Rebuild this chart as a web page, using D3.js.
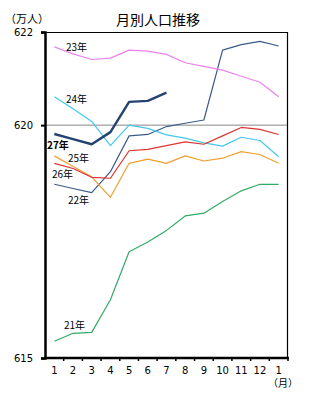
<!DOCTYPE html>
<html>
<head>
<meta charset="utf-8">
<script src="https://cdn.jsdelivr.net/npm/d3@7"></script>
<style>
  html, body { margin: 0; padding: 0; background: #fff; }
  svg { display: block; }
  text { font-family: "Noto Sans CJK JP", "DejaVu Sans", sans-serif; fill: #000; }
</style>
</head>
<body>
<svg id="chart" width="323" height="401"></svg>
<script>
// Month labels along the x axis (January through the next January)
const months = ["1","2","3","4","5","6","7","8","9","10","11","12","1"];
const yTicks = [615, 620, 622];

// Monthly population (10,000 persons) for each year
const y21 = [615.36, 615.53, 615.55, 616.25, 617.28, 617.49, 617.74, 618.05, 618.11, 618.36, 618.59, 618.73, 618.73];
const y22 = [618.73, 618.64, 618.55, 619.00, 619.77, 619.80, 619.97, 620.04, 620.11, 621.61, 621.73, 621.80, 621.70];
const y23 = [621.68, 621.53, 621.41, 621.44, 621.61, 621.59, 621.52, 621.34, 621.26, 621.18, 621.05, 620.92, 620.61];
const y24 = [620.61, 620.35, 620.08, 619.56, 620.00, 619.93, 619.79, 619.72, 619.62, 619.55, 619.74, 619.67, 619.32];
const y25 = [619.34, 619.11, 618.89, 618.45, 619.18, 619.27, 619.18, 619.34, 619.23, 619.29, 619.43, 619.37, 619.18];
const y26 = [619.18, 619.07, 618.88, 618.86, 619.45, 619.48, 619.56, 619.64, 619.59, 619.77, 619.95, 619.91, 619.80];
const y27 = [619.81, 619.70, 619.59, 619.85, 620.50, 620.52, 620.70];

const series = [
  { name: "21年", values: y21, color: "#33aa66", width: 1.2, bold: false, lx: 64, ly: 329 },
  { name: "22年", values: y22, color: "#3a5a88", width: 1.2, bold: false, lx: 68, ly: 204 },
  { name: "23年", values: y23, color: "#ee82ee", width: 1.2, bold: false, lx: 66, ly: 51 },
  { name: "24年", values: y24, color: "#44c8ec", width: 1.2, bold: false, lx: 66, ly: 103 },
  { name: "25年", values: y25, color: "#f0a030", width: 1.2, bold: false, lx: 68, ly: 162 },
  { name: "26年", values: y26, color: "#dd3333", width: 1.2, bold: false, lx: 52, ly: 178 },
  { name: "27年", values: y27, color: "#25436f", width: 2.4, bold: true,  lx: 47, ly: 149 }
];

const svg = d3.select("#chart");
const pLeft = 45, pRight = 288, pTop = 32, pBottom = 358;

const x = d3.scaleBand().domain(d3.range(months.length)).range([pLeft, pRight]);
const y = d3.scaleLinear().domain([615, 622]).range([pBottom, pTop]);
const cx = i => x(i) + x.bandwidth() / 2;

// Title and unit labels
svg.append("text").attr("x", 158).attr("y", 25).attr("text-anchor", "middle")
  .style("font-size", "14px").text("月別人口推移");
svg.append("text").attr("x", 5).attr("y", 23).style("font-size", "11px").text("（万人）");
svg.append("text").attr("x", 283).attr("y", 387).attr("text-anchor", "middle")
  .style("font-size", "10px").text("（月）");

// Reference line at 620
svg.append("line").attr("x1", pLeft).attr("x2", pRight)
  .attr("y1", y(620)).attr("y2", y(620))
  .attr("stroke", "#888").attr("stroke-width", 1);

// Frame: thin top/right, heavy left/bottom axes
svg.append("line").attr("x1", pLeft).attr("x2", pRight).attr("y1", pTop + 0.5).attr("y2", pTop + 0.5)
  .attr("stroke", "#000").attr("stroke-width", 1.2);
svg.append("line").attr("x1", pRight - 0.5).attr("x2", pRight - 0.5).attr("y1", pTop).attr("y2", pBottom)
  .attr("stroke", "#000").attr("stroke-width", 1.2);

// Y axis
const yAxis = d3.axisLeft(y).tickValues(yTicks).tickSize(4).tickPadding(8).tickFormat(d3.format("d"));
const gy = svg.append("g").attr("transform", `translate(${pLeft},0)`).call(yAxis);
gy.select(".domain").attr("stroke", "#000").attr("stroke-width", 2.5);
gy.selectAll(".tick line").attr("stroke", "#000").attr("stroke-width", 2);
gy.selectAll(".tick text").style("font-size", "10px").style("font-family", "\"DejaVu Sans\", sans-serif");

// X axis: tick marks at band boundaries, labels at band centres
const gx = svg.append("g").attr("transform", `translate(0,${pBottom})`);
gx.append("line").attr("x1", pLeft - 1).attr("x2", pRight + 1).attr("y1", 0).attr("y2", 0)
  .attr("stroke", "#000").attr("stroke-width", 2.5);
gx.selectAll(".bt").data(d3.range(1, months.length + 1)).join("line")
  .attr("x1", i => x(0) + i * x.bandwidth()).attr("x2", i => x(0) + i * x.bandwidth())
  .attr("y1", 0).attr("y2", 3).attr("stroke", "#000").attr("stroke-width", 1.5);
gx.selectAll(".ml").data(months).join("text")
  .attr("x", (d, i) => cx(i)).attr("y", 16).attr("text-anchor", "middle")
  .style("font-size", "10px").style("font-family", "\"DejaVu Sans\", sans-serif").text(d => d);

// Year lines
const line = d3.line().x((d, i) => cx(i)).y(d => y(d));
series.forEach(s => {
  svg.append("path").datum(s.values).attr("d", line)
    .attr("fill", "none").attr("stroke", s.color).attr("stroke-width", s.width)
    .attr("stroke-linejoin", "round");
});

// Year labels
svg.selectAll(".yl").data(series).join("text")
  .attr("x", d => d.lx).attr("y", d => d.ly)
  .style("font-size", "10px").style("font-weight", d => d.bold ? "bold" : "normal")
  .text(d => d.name);
</script>
</body>
</html>
